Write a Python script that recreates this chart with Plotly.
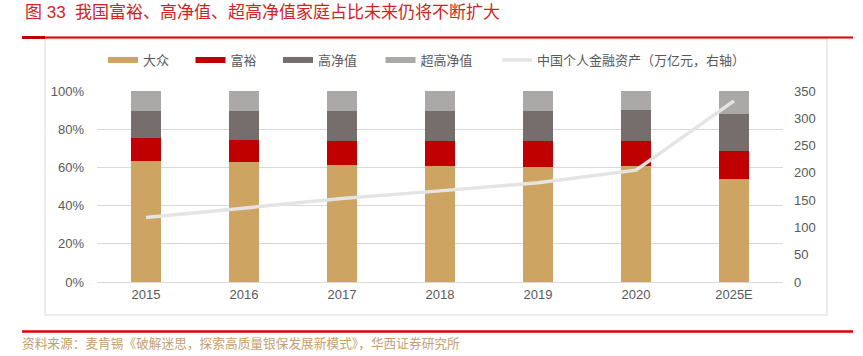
import plotly.graph_objects as go

years = ["2015", "2016", "2017", "2018", "2019", "2020", "2025E"]
mass = [0.634, 0.627, 0.614, 0.607, 0.602, 0.609, 0.539]
affluent = [0.120, 0.118, 0.126, 0.133, 0.138, 0.131, 0.148]
hnw = [0.143, 0.152, 0.157, 0.157, 0.157, 0.159, 0.193]
uhnw = [0.103, 0.103, 0.103, 0.103, 0.103, 0.101, 0.120]
assets = [118, 136, 153, 167, 182, 205, 332]

names = ["大众", "富裕", "高净值", "超高净值"]
colors = ["#cda462", "#c00000", "#766e6d", "#aaa9a7"]
series = [mass, affluent, hnw, uhnw]
line_name = "中国个人金融资产（万亿元，右轴）"
title_text = "图 33  我国富裕、高净值、超高净值家庭占比未来仍将不断扩大"
source_text = "资料来源：麦肯锡《破解迷思，探索高质量银保发展新模式》，华西证券研究所"

FONT = "Liberation Sans, Noto Sans CJK SC, sans-serif"

W, H = 863, 356
L, R, T, B = 97, 80, 91, 74
pw, ph = W - L - R, H - T - B

def px(x):
    return (x - L) / pw

def py(y):
    return (H - B - y) / ph

legend_ids = ["legend", "legend2", "legend3", "legend4", "legend5"]
legend_x = [103, 190.5, 278, 380.5, 497]

fig = go.Figure()
for n, c, s in zip(names, colors, series):
    fig.add_trace(go.Bar(x=years, y=s, name=n, marker=dict(color=c, line=dict(width=0)),
                         showlegend=False))
for i, (n, c) in enumerate(zip(names, colors)):
    fig.add_trace(go.Scatter(x=[None], y=[None], mode="lines", name=n,
                             line=dict(color=c, width=6), showlegend=True,
                             legend=legend_ids[i]))
fig.add_trace(go.Scatter(x=years, y=assets, mode="lines", name=line_name, yaxis="y2",
                         line=dict(color="#e4e4e4", width=3.5), legend=legend_ids[4]))

shapes = [
    dict(type="rect", xref="paper", yref="paper", x0=px(45), x1=px(827), y0=py(315), y1=py(39),
         line=dict(color="#d9d9d9", width=1), layer="below"),
    dict(type="line", xref="paper", yref="paper", x0=px(22), x1=px(853), y0=py(37.5), y1=py(37.5),
         line=dict(color="#e00000", width=2)),
    dict(type="line", xref="paper", yref="paper", x0=px(22), x1=px(45), y0=py(37.5), y1=py(37.5),
         line=dict(color="#c00000", width=3)),
    dict(type="line", xref="paper", yref="paper", x0=px(22), x1=px(853), y0=py(331.5), y1=py(331.5),
         line=dict(color="#e00000", width=2.5)),
]

annotations = [
    dict(text=title_text, xref="paper", yref="paper", x=px(23), y=py(13), xanchor="left",
         yanchor="middle", showarrow=False, font=dict(family=FONT, size=17, color="#d02424")),
    dict(text=source_text, xref="paper", yref="paper", x=px(20), y=py(343), xanchor="left",
         yanchor="middle", showarrow=False, font=dict(family=FONT, size=12.7, color="#c4a070")),
]

layout_legends = {}
for lid, lx in zip(legend_ids, legend_x):
    layout_legends[lid] = dict(orientation="h", x=px(lx), xanchor="left", y=py(60),
                               yanchor="middle", font=dict(family=FONT, size=13, color="#595959"),
                               itemwidth=30, bgcolor="rgba(0,0,0,0)")

fig.update_layout(
    width=W, height=H,
    margin=dict(l=L, r=R, t=T, b=B),
    paper_bgcolor="white", plot_bgcolor="white",
    barmode="stack", bargap=0.69,
    font=dict(family=FONT, size=13, color="#595959"),
    showlegend=True,
    xaxis=dict(type="category", showgrid=False, showline=True, linecolor="#d9d9d9",
               ticks="", tickfont=dict(size=13, color="#595959")),
    yaxis=dict(range=[0, 1], dtick=0.2, tickformat=".0%", showgrid=True, gridcolor="#d9d9d9",
               zeroline=False, ticks="", ticklabelstandoff=12, tickfont=dict(size=13, color="#595959")),
    yaxis2=dict(range=[0, 350], dtick=50, overlaying="y", side="right", showgrid=False,
                zeroline=False, ticks="", ticklabelstandoff=10, tickfont=dict(size=13, color="#595959")),
    shapes=shapes, annotations=annotations,
    **layout_legends,
)

fig.write_html("out.html", config={"displayModeBar": False},
               post_script="document.body.style.margin='0';document.body.style.padding='0';")
